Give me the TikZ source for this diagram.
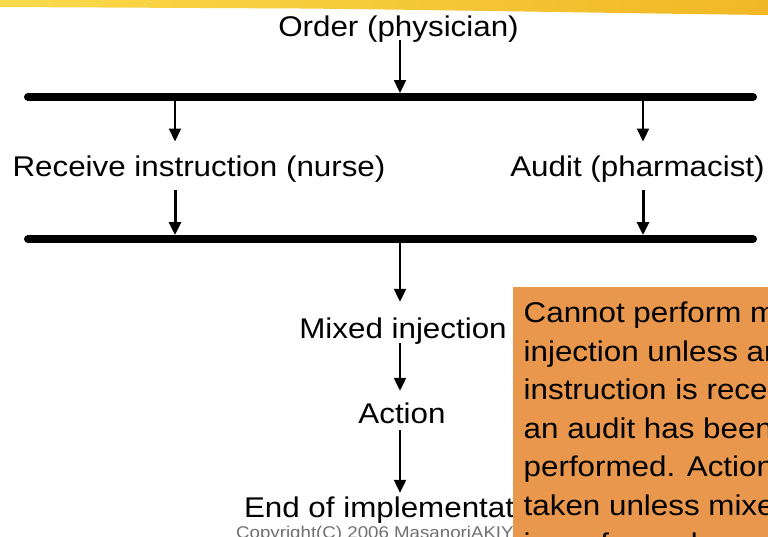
\documentclass[tikz,border=0pt]{standalone}
\usepackage{fontspec}
\setmainfont{Liberation Sans}[FakeStretch=1.1]
\usetikzlibrary{arrows.meta}

\definecolor{ribbonL}{RGB}{250,218,76}
\definecolor{ribbonR}{RGB}{241,184,36}
\definecolor{notefill}{RGB}{233,151,76}
\definecolor{copygray}{RGB}{112,112,112}

\begin{document}
\begin{tikzpicture}[x=1pt,y=-1pt,
  lbl/.style={inner sep=0pt, anchor=base, text height=21pt, text depth=6pt,
              font=\fontsize{28.5}{38.5}\selectfont},
  rail/.style={line width=8pt, line cap=round},
  arr/.style={line width=2.2pt, -{Triangle[length=13pt,width=12pt]}},
  arrb/.style={arr, line width=3pt},
]
\useasboundingbox (0,0) rectangle (768,536);
\clip (0,0) rectangle (768,536);
\fill[white] (0,0) rectangle (768,536);

% brush-stroke ribbon along the top edge
\shade[left color=ribbonL, right color=ribbonR]
  (0,0) -- (768,0) -- (768,15)
  .. controls (600,13) and (450,10) .. (300,8.5)
  .. controls (150,7.5) .. (0,7) -- cycle;

% process steps
\node[lbl] (order)  at (398.5,36)  {Order (physician)};
\node[lbl] (recv)   at (199,176.7) {Receive instruction (nurse)};
\node[lbl] (audit)  at (637.5,176.7) {Audit (pharmacist)};
\node[lbl] (mixed)  at (403,338)   {Mixed injection};
\node[lbl] (action) at (402,423)   {Action};

% copyright line, partly under the step label
\node[inner sep=0pt, anchor=base west, text=copygray,
      font=\fontsize{17}{20}\selectfont] (copy) at (236,538.5)
  {Copyright(C) 2006 MasanoriAKIYAMA};
\node[lbl] (endimp) at (400,517) {End of implementation};

% synchronisation bars
\coordinate (r1w) at (28,97);  \coordinate (r1e) at (753,97);
\coordinate (r2w) at (28,239); \coordinate (r2e) at (753,239);
\draw[rail] (r1w) -- (r1e);
\draw[rail] (r2w) -- (r2e);

% columns of the arrows
\coordinate (xn) at (175,0);
\coordinate (xp) at (643,0);
\coordinate (xc) at (400,0);

% joins onto the bars (arrow tips touch the bar edge)
\coordinate (j1)  at (400,93);
\coordinate (j2n) at (175,235);
\coordinate (j2p) at (643,235);

\draw[arr, shorten <=-2pt] (order.south -| j1) -- (j1);
\draw[arr, shorten >=14pt] (r1w -| xn) -- (recv.north -| xn);
\draw[arr, shorten >=14pt] (r1w -| xp) -- (audit.north -| xp);
\draw[arrb, shorten <=7pt] (recv.south -| j2n) -- (j2n);
\draw[arrb, shorten <=7pt] (audit.south -| j2p) -- (j2p);
\draw[arr, shorten >=15pt] (r2w -| xc) -- (mixed.north -| xc);
\draw[arr, shorten <=-1pt, shorten >=11pt] (mixed.south -| xc) -- (action.north -| xc);
\draw[arr, shorten <=1pt, shorten >=3pt] (action.south -| xc) -- (endimp.north -| xc);

% condition note
\node[fill=notefill, anchor=north west, inner xsep=10.5pt, inner ysep=15pt,
      align=left, font=\fontsize{28.5}{38.5}\selectfont] (note) at (513,287)
  {Cannot perform mixed\\
   injection unless an\\
   instruction is received and\\
   an audit has been\\
   performed. Action cannot be\\
   taken unless mixed injection\\
   is performed.};
\end{tikzpicture}
\end{document}
